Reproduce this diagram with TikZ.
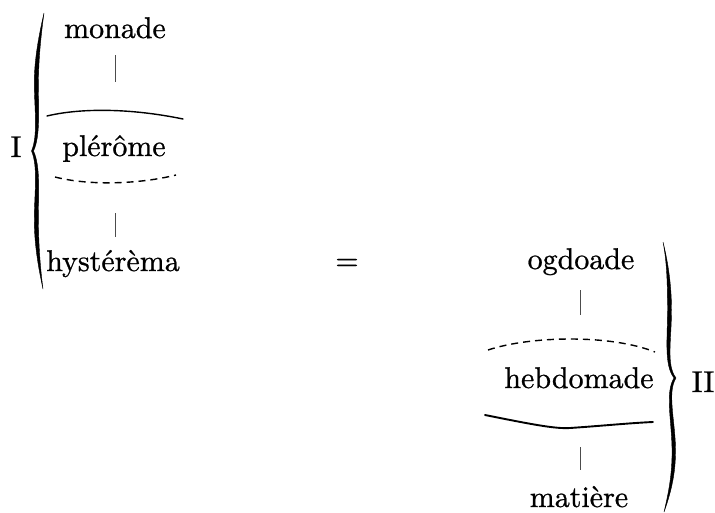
\documentclass[tikz,border=0pt]{standalone}
\font\lmbig="[lmroman10-regular]:embolden=0.8" at 30pt
\begin{document}
\begin{tikzpicture}[x=1pt,y=-1pt,
  lbl/.style={inner sep=0pt,anchor=base,font=\lmbig},
  tick/.style={draw=black!70,line width=0.8pt},
  solidsep/.style={draw=black,line width=1.4pt,line cap=round},
  dashsep/.style={draw=black,line width=1.4pt,dash pattern=on 7pt off 5pt},
  bracefill/.style={fill=black,draw=black,line width=0.4pt}]
\useasboundingbox (0,0) rectangle (715,512);

% labels
\node[lbl] (monade) at (115,38) {monade};
\node[lbl] (plerome) at (114,156) {plérôme};
\node[lbl] (hysterema) at (113,271) {hystérèma};
\node[lbl] (eq) at (347,270) {=};
\node[lbl] (ogdoade) at (581,269) {ogdoade};
\node[lbl] (hebdomade) at (579,388) {hebdomade};
\node[lbl] (matiere) at (579,507) {matière};
\node[lbl] (one) at (16,157) {I};
\node[lbl] (two) at (703,392) {II};

% ticks
\coordinate (t1a) at (115,55); \coordinate (t1b) at (115,82);
\coordinate (t2a) at (115,213); \coordinate (t2b) at (115,237);
\coordinate (t3a) at (580,290); \coordinate (t3b) at (580,315);
\coordinate (t4a) at (580,447); \coordinate (t4b) at (580,470);
\draw[tick] (t1a) -- (t1b);
\draw[tick] (t2a) -- (t2b);
\draw[tick] (t3a) -- (t3b);
\draw[tick] (t4a) -- (t4b);

% separators, left group
\coordinate (s1a) at (47,116); \coordinate (s1b) at (183,119);
\draw[solidsep] (s1a) .. controls (80,108) and (130,108) .. (s1b);
\coordinate (d1a) at (55,177); \coordinate (d1b) at (176,175);
\draw[dashsep] (d1a) .. controls (90,186) and (140,184) .. (d1b);

% separators, right group
\coordinate (d2a) at (488,350); \coordinate (d2b) at (655,352);
\draw[dashsep] (d2a) .. controls (530,336) and (610,334) .. (d2b);
\coordinate (s2a) at (485,415); \coordinate (s2m) at (570,428); \coordinate (s2b) at (653,422);
\draw[solidsep,line width=1.9pt] (s2a) .. controls (530,424) and (555,429) .. (s2m)
  .. controls (600,426) and (630,423) .. (s2b);

% brace I
\path[bracefill] (44,13) .. controls (39,35) and (34,60) .. (34.3,85)
  .. controls (34.6,110) and (38,136) .. (31.5,151)
  .. controls (38,166) and (34.6,192) .. (34.3,217)
  .. controls (34,242) and (38,266) .. (43,289)
  .. controls (40,266) and (38.4,242) .. (38.4,217)
  .. controls (38.4,192) and (40.5,166) .. (33.5,151)
  .. controls (40.5,136) and (38.4,110) .. (38.4,85)
  .. controls (38.4,60) and (41,35) .. (44,13) -- cycle;

% brace II
\path[bracefill] (663,242) .. controls (667,262) and (667.5,285) .. (667.5,310)
  .. controls (667.5,340) and (664,365) .. (674,378)
  .. controls (665,392) and (671.5,420) .. (672,448)
  .. controls (672.5,475) and (668,495) .. (664,512)
  .. controls (670,495) and (676,475) .. (675.5,448)
  .. controls (675,420) and (667,392) .. (676,378)
  .. controls (666,365) and (671.5,340) .. (671.5,310)
  .. controls (671.5,285) and (668,262) .. (663,242) -- cycle;
\end{tikzpicture}
\end{document}
